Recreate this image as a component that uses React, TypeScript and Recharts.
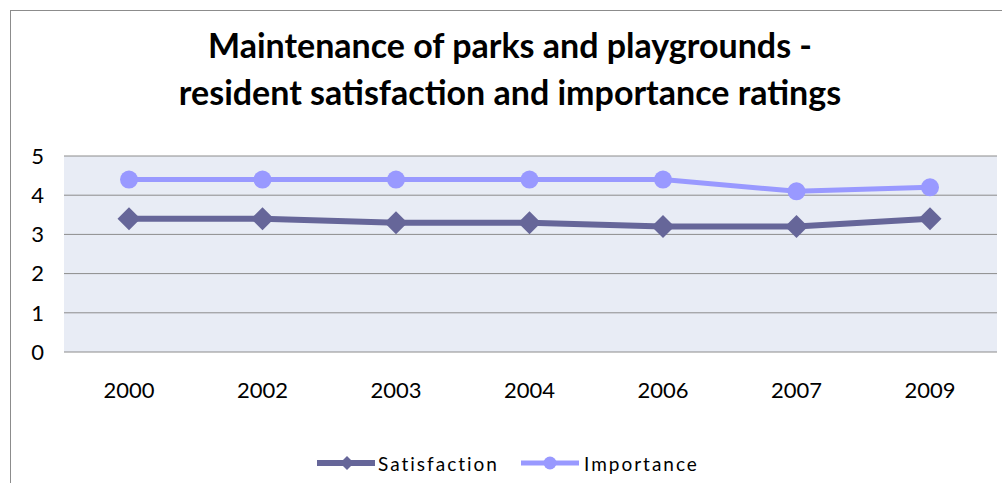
import React from 'react';
import { LineChart, Line, XAxis, YAxis, CartesianGrid } from 'recharts';

const years = ['2000', '2002', '2003', '2004', '2006', '2007', '2009'];
const satisfaction = [3.4, 3.4, 3.3, 3.3, 3.2, 3.2, 3.4];
const importance = [4.4, 4.4, 4.4, 4.4, 4.4, 4.1, 4.2];
const yTicks = [0, 1, 2, 3, 4, 5];

const SAT_COLOR = '#666699';
const IMP_COLOR = '#9999ff';
const FONT = 'Lato, "Open Sans", sans-serif';

const data = years.map((year, i) => ({
  year,
  satisfaction: satisfaction[i],
  importance: importance[i],
}));

const Diamond = (props: any) => {
  const { cx, cy } = props;
  if (cx == null || cy == null) return null;
  const r = 11.5;
  return (
    <path
      d={`M${cx},${cy - r}L${cx + r},${cy}L${cx},${cy + r}L${cx - r},${cy}Z`}
      fill={SAT_COLOR}
    />
  );
};

const Dot = (props: any) => {
  const { cx, cy } = props;
  if (cx == null || cy == null) return null;
  return <circle cx={cx} cy={cy} r={9} fill={IMP_COLOR} />;
};

const App: React.FC = () => {
  return (
    <div style={{ position: 'absolute', left: 0, top: 0, width: 1002, height: 483, overflow: 'hidden', background: '#fff', fontFamily: FONT }}>
      <div style={{ position: 'absolute', left: 10, top: 10, width: 1000, height: 490, border: '1px solid #8c8c8c', boxSizing: 'border-box' }} />
      <div
        style={{
          position: 'absolute',
          left: 10,
          width: 1000,
          top: 21,
          textAlign: 'center',
          fontWeight: 700,
          fontSize: 34,
          lineHeight: '47px',
          color: '#000',
        }}
      >
        Maintenance of parks and playgrounds -<br />
        resident satisfaction and importance ratings
      </div>
      <div style={{ position: 'absolute', left: 0, top: 0 }}>
        <LineChart width={1002} height={483} data={data} margin={{ top: 156, right: 5, left: 0, bottom: 71 }}>
          <CartesianGrid vertical={false} stroke="#8c8c8c" fill="#e8ecf5" />
          <XAxis
            dataKey="year"
            axisLine={false}
            tickLine={false}
            height={60}
            tickMargin={24}
            padding={{ left: 65, right: 67 }}
            tick={{ fill: '#000', fontSize: 22, fontFamily: FONT }}
            interval={0}
          />
          <YAxis
            domain={[0, 5]}
            ticks={yTicks}
            width={64}
            axisLine={false}
            tickLine={false}
            tickMargin={14}
            tick={{ fill: '#000', fontSize: 22, fontFamily: FONT }}
            interval={0}
          />
          <Line
            type="linear"
            dataKey="satisfaction"
            stroke={SAT_COLOR}
            strokeWidth={6}
            dot={<Diamond />}
            activeDot={false}
            isAnimationActive={false}
          />
          <Line
            type="linear"
            dataKey="importance"
            stroke={IMP_COLOR}
            strokeWidth={5}
            dot={<Dot />}
            activeDot={false}
            isAnimationActive={false}
          />
        </LineChart>
      </div>
      <div style={{ position: 'absolute', left: 317, top: 450, display: 'flex', alignItems: 'center', fontSize: 19, letterSpacing: 2, color: '#000' }}>
        <svg width={60} height={26} style={{ display: 'block' }}>
          <line x1={0} y1={13} x2={58} y2={13} stroke={SAT_COLOR} strokeWidth={6} />
          <path d="M30,6L37,13L30,20L23,13Z" fill={SAT_COLOR} />
        </svg>
        <span style={{ marginLeft: 1 }}>Satisfaction</span>
        <svg width={60} height={26} style={{ display: 'block', marginLeft: 22 }}>
          <line x1={0} y1={13} x2={58} y2={13} stroke={IMP_COLOR} strokeWidth={5} />
          <circle cx={29} cy={13} r={6.5} fill={IMP_COLOR} />
        </svg>
        <span style={{ marginLeft: 3 }}>Importance</span>
      </div>
    </div>
  );
};

export default App;
